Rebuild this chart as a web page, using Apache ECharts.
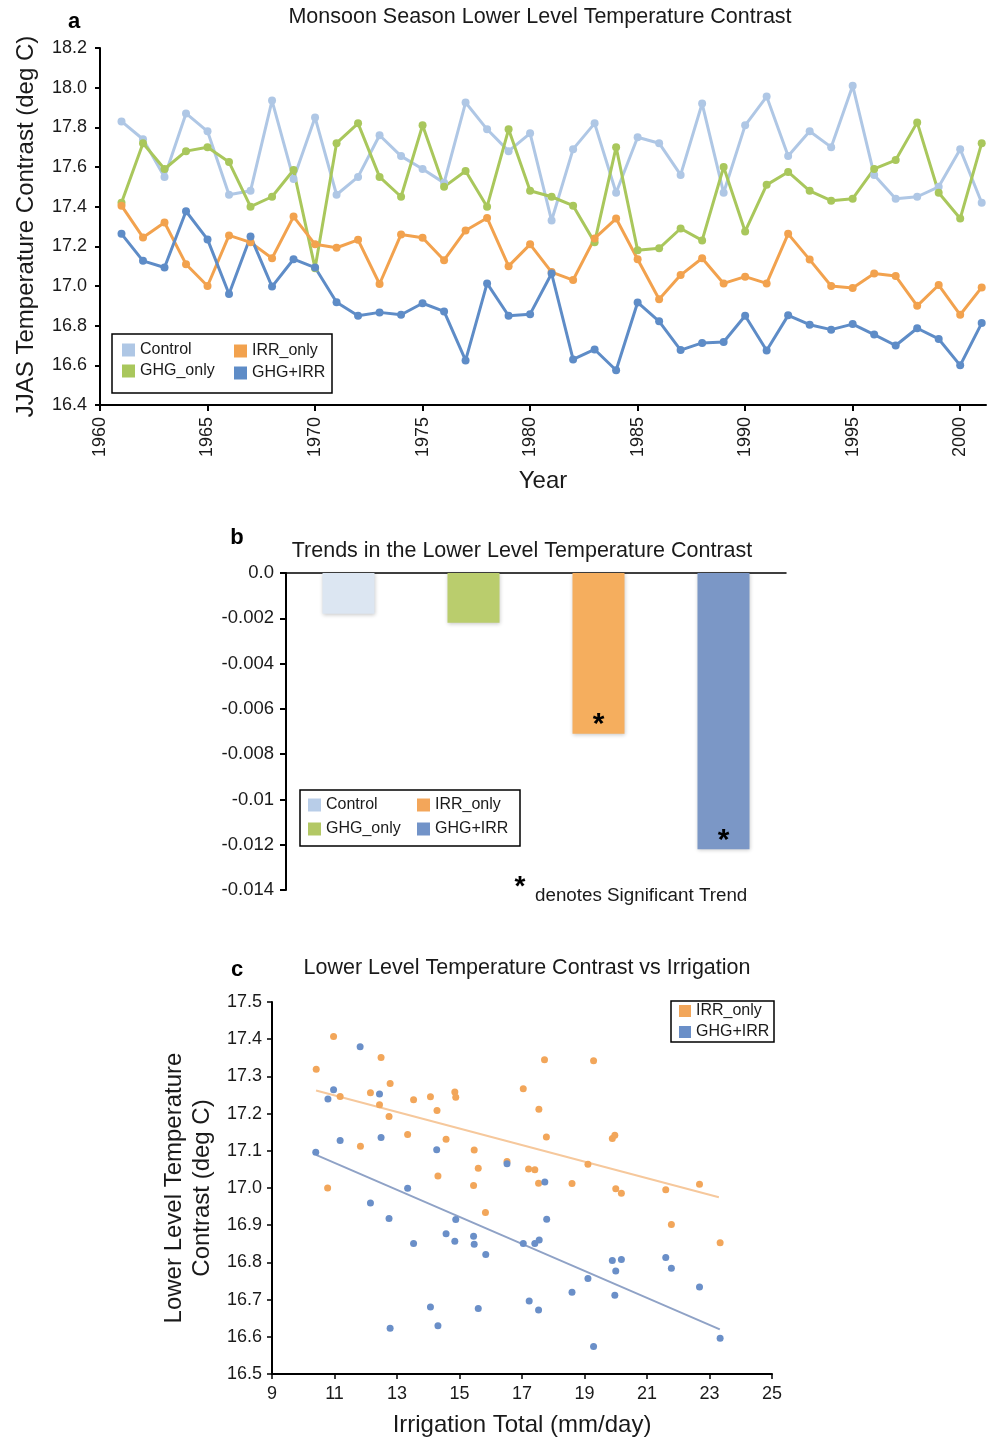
<!DOCTYPE html>
<html>
<head>
<meta charset="utf-8">
<script src="https://cdn.jsdelivr.net/npm/echarts@6/dist/echarts.min.js"></script>
<style>
html,body{margin:0;padding:0;background:#fff;}
#chart{width:989px;height:1440px;}
</style>
</head>
<body>
<div id="chart"></div>
<script>
// ---------- Panel a data ----------
const years = [1961,1962,1963,1964,1965,1966,1967,1968,1969,1970,1971,1972,1973,1974,1975,1976,1977,1978,1979,1980,1981,1982,1983,1984,1985,1986,1987,1988,1989,1990,1991,1992,1993,1994,1995,1996,1997,1998,1999,2000,2001];
const control = [17.83,17.74,17.55,17.87,17.78,17.46,17.48,17.935,17.54,17.85,17.46,17.55,17.76,17.655,17.59,17.52,17.925,17.79,17.68,17.77,17.33,17.69,17.82,17.47,17.75,17.72,17.56,17.92,17.47,17.81,17.955,17.655,17.78,17.70,18.01,17.56,17.44,17.45,17.50,17.69,17.42];
const ghgOnly = [17.42,17.72,17.59,17.68,17.70,17.625,17.40,17.45,17.585,17.09,17.72,17.82,17.55,17.45,17.81,17.50,17.58,17.40,17.79,17.48,17.45,17.405,17.22,17.70,17.18,17.19,17.29,17.23,17.60,17.275,17.51,17.575,17.48,17.43,17.44,17.59,17.635,17.825,17.47,17.34,17.72];
const irrOnly = [17.405,17.245,17.32,17.11,17.00,17.255,17.22,17.14,17.35,17.21,17.193,17.233,17.01,17.26,17.243,17.13,17.28,17.343,17.10,17.21,17.07,17.03,17.24,17.34,17.135,16.933,17.055,17.14,17.013,17.047,17.013,17.263,17.133,17.00,16.99,17.063,17.05,16.90,17.005,16.855,16.993];
const ghgIrr = [17.263,17.127,17.093,17.377,17.235,16.96,17.25,16.997,17.135,17.093,16.918,16.85,16.867,16.855,16.913,16.872,16.625,17.013,16.85,16.858,17.063,16.63,16.68,16.575,16.917,16.822,16.677,16.713,16.718,16.85,16.675,16.852,16.805,16.78,16.808,16.755,16.70,16.787,16.733,16.60,16.813];
const yearTicks = [1960,1965,1970,1975,1980,1985,1990,1995,2000];

// ---------- Panel b data ----------
const trendCategories = ['Control','GHG_only','IRR_only','GHG+IRR'];
const trendValues = [-0.0018,-0.0022,-0.0071,-0.0122];
const trendSignificant = [false,false,true,true];
const trendTickLabels = ['0.0','-0.002','-0.004','-0.006','-0.008','-0.01','-0.012','-0.014'];

// ---------- Panel c data ----------
const cIrrOnlyX = [10.415,10.97,12.49,12.78,11.18,12.15,12.44,12.745,13.53,14.07,14.28,14.85,14.88,13.34,14.57,11.83,15.47,16.52,15.60,14.31,10.78,15.45,15.83,17.72,19.29,17.04,17.54,17.78,19.89,19.97,17.21,17.41,17.53,18.60,19.11,20.0,20.18,21.60,22.68,21.78,23.34];
const cIrrOnlyY = [17.319,17.407,17.351,17.281,17.246,17.256,17.224,17.192,17.237,17.245,17.208,17.258,17.244,17.144,17.131,17.112,17.102,17.071,17.053,17.032,17.0,17.007,16.934,17.345,17.342,17.267,17.212,17.137,17.133,17.142,17.051,17.049,17.013,17.012,17.064,16.998,16.986,16.995,17.010,16.902,16.853];
const cGhgIrrX = [11.82,10.97,10.79,12.44,11.18,12.49,10.40,14.27,13.34,12.15,12.745,14.88,13.53,14.57,14.85,15.45,15.47,15.84,14.07,14.31,15.60,12.78,16.52,17.73,17.79,17.04,17.41,17.55,19.89,20.18,20.0,21.60,21.78,19.11,18.60,19.97,22.68,17.23,17.53,23.34,19.29];
const cGhgIrrY = [17.38,17.264,17.239,17.253,17.128,17.136,17.096,17.103,16.999,16.96,16.918,16.915,16.851,16.877,16.857,16.870,16.849,16.821,16.680,16.630,16.676,16.623,17.065,17.016,16.916,16.851,16.851,16.860,16.805,16.808,16.777,16.813,16.784,16.757,16.720,16.712,16.734,16.696,16.672,16.596,16.574];
const trendIrrX = [10.41,23.30];
const trendIrrY = [17.262,16.975];
const trendGhgX = [10.41,23.33];
const trendGhgY = [17.089,16.620];
const irrTicks = [9,11,13,15,17,19,21,23,25];

// ---------- styling ----------
const FONT = 'Liberation Sans, Arial, Helvetica, sans-serif';
const TXT = '#1a1a1a';
const colA = {Control:'#AFC7E5', GHG_only:'#A9C75C', IRR_only:'#F2A24E', 'GHG+IRR':'#5E8CC7'};
const colB = {Control:'#DCE6F2', GHG_only:'#BACD6D', IRR_only:'#F5AE5E', 'GHG+IRR':'#7B97C6'};
const colBLegend = {Control:'#B8CDE8', GHG_only:'#B3C865', IRR_only:'#F3A65A', 'GHG+IRR':'#7293C8'};
const colC = {IRR_only:'#F2A65A', 'GHG+IRR':'#6A8FC8'};

const chart = echarts.init(document.getElementById('chart'), null, {renderer:'canvas'});

function pairs(xs, ys){ return xs.map((x,i)=>[x, ys[i]]); }

const axisLineBlack = {show:true, lineStyle:{color:'#000', width:2}};

const lineSeries = [['Control',control],['GHG_only',ghgOnly],['IRR_only',irrOnly],['GHG+IRR',ghgIrr]].map(([name,vals])=>({
  name, type:'line', xAxisIndex:0, yAxisIndex:0,
  data: pairs(years, vals),
  symbol:'circle', symbolSize:8, showSymbol:true,
  lineStyle:{width:3, color:colA[name]},
  itemStyle:{color:colA[name]},
  z: 3
}));

const barSeries = trendCategories.map((name,i)=>({
  name, type:'bar', xAxisIndex:1, yAxisIndex:1,
  data: trendCategories.map((c,j)=> j===i ? trendValues[i] : '-'),
  barWidth:52, barGap:'-100%',
  itemStyle:{color:colB[name], shadowBlur:4, shadowColor:'rgba(0,0,0,0.22)', shadowOffsetY:1},
  label:{show:trendSignificant[i], position:'insideBottom', distance:-6, formatter:'*',
         fontSize:30, fontWeight:'bold', color:'#000', fontFamily:FONT}
}));

const scatterSeries = [
  {name:'GHG+IRR', type:'line', xAxisIndex:2, yAxisIndex:2, data:pairs(trendGhgX,trendGhgY),
   symbol:'none', lineStyle:{color:'#8FA2C6', width:2}, silent:true, z:2},
  {name:'IRR_only', type:'line', xAxisIndex:2, yAxisIndex:2, data:pairs(trendIrrX,trendIrrY),
   symbol:'none', lineStyle:{color:'#F6C89C', width:2}, silent:true, z:2},
  {name:'IRR_only', type:'scatter', xAxisIndex:2, yAxisIndex:2, data:pairs(cIrrOnlyX,cIrrOnlyY),
   symbolSize:7, itemStyle:{color:colC.IRR_only, opacity:1}, z:3},
  {name:'GHG+IRR', type:'scatter', xAxisIndex:2, yAxisIndex:2, data:pairs(cGhgIrrX,cGhgIrrY),
   symbolSize:7, itemStyle:{color:colC['GHG+IRR'], opacity:1}, z:4}
];

const legTxt = {fontSize:16, color:TXT, fontFamily:FONT};
function legItem(name, color){ return {name, icon:'rect', itemStyle:{color}}; }
const nameTxt = {fontSize:24, color:TXT, fontFamily:FONT};

const option = {
  backgroundColor:'#fff',
  animation:false,
  textStyle:{fontFamily:FONT},
  grid:[
    {left:100, top:48, width:886, height:357},
    {left:286, top:573, width:500, height:317},
    {left:272, top:1002, width:500, height:372}
  ],
  xAxis:[
    {gridIndex:0, type:'value', min:1960, max:2001.2, interval:5,
     name:'Year', nameLocation:'middle', nameGap:64,
     nameTextStyle:nameTxt,
     axisLine:axisLineBlack,
     axisTick:{show:true, length:6, lineStyle:{color:'#000', width:2}, customValues:yearTicks},
     axisLabel:{rotate:90, fontSize:18, color:TXT, margin:12, customValues:yearTicks,
                formatter:v=>String(v)},
     splitLine:{show:false}},
    {gridIndex:1, type:'category', data:trendCategories, position:'top',
     axisLine:{show:true, onZero:true, lineStyle:{color:'#000', width:1.5}},
     axisTick:{show:false}, axisLabel:{show:false}, splitLine:{show:false}},
    {gridIndex:2, type:'value', min:9, max:25,
     name:'Irrigation Total (mm/day)', nameLocation:'middle', nameGap:39,
     nameTextStyle:nameTxt,
     axisLine:axisLineBlack,
     axisTick:{show:true, length:5, lineStyle:{color:'#000', width:1.5}, customValues:irrTicks},
     axisLabel:{fontSize:18, color:TXT, margin:11, customValues:irrTicks, formatter:v=>String(v)},
     splitLine:{show:false}}
  ],
  yAxis:[
    {gridIndex:0, type:'value', min:16.4, max:18.2, interval:0.2,
     name:'JJAS Temperature Contrast (deg C)', nameLocation:'middle', nameGap:62,
     nameTextStyle:nameTxt,
     axisLine:axisLineBlack,
     axisTick:{show:true, length:5, lineStyle:{color:'#000', width:2}},
     axisLabel:{fontSize:18, color:TXT, margin:13, formatter:v=>v.toFixed(1)},
     splitLine:{show:false}},
    {gridIndex:1, type:'value', min:-0.014, max:0, interval:0.002,
     axisLine:axisLineBlack,
     axisTick:{show:true, length:6, lineStyle:{color:'#000', width:2}},
     axisLabel:{fontSize:18.5, color:TXT, margin:12,
                formatter:v=>trendTickLabels[Math.round(-v/0.002)]},
     splitLine:{show:false}},
    {gridIndex:2, type:'value', min:16.5, max:17.5, interval:0.1,
     name:'Lower Level Temperature\nContrast (deg C)', nameLocation:'middle', nameGap:56,
     nameTextStyle:Object.assign({lineHeight:28, align:'center'}, nameTxt),
     axisLine:axisLineBlack,
     axisTick:{show:true, length:5, lineStyle:{color:'#000', width:1.5}},
     axisLabel:{fontSize:18, color:TXT, margin:10, formatter:v=>v.toFixed(1)},
     splitLine:{show:false}}
  ],
  legend:[
    {orient:'vertical', left:122, top:342, padding:0, itemWidth:13, itemHeight:13, itemGap:5,
     textStyle:legTxt, selectedMode:false,
     data:[legItem('Control',colA.Control), legItem('GHG_only',colA.GHG_only)]},
    {orient:'vertical', left:234, top:343, padding:0, itemWidth:13, itemHeight:13, itemGap:6,
     textStyle:legTxt, selectedMode:false,
     data:[legItem('IRR_only',colA.IRR_only), legItem('GHG+IRR',colA['GHG+IRR'])]},
    {orient:'vertical', left:308, top:797, padding:0, itemWidth:13, itemHeight:13, itemGap:8,
     textStyle:legTxt, selectedMode:false,
     data:[legItem('Control',colBLegend.Control), legItem('GHG_only',colBLegend.GHG_only)]},
    {orient:'vertical', left:417, top:797, padding:0, itemWidth:13, itemHeight:13, itemGap:8,
     textStyle:legTxt, selectedMode:false,
     data:[legItem('IRR_only',colBLegend.IRR_only), legItem('GHG+IRR',colBLegend['GHG+IRR'])]},
    {orient:'vertical', left:679, top:1003, padding:0, itemWidth:12, itemHeight:12, itemGap:5,
     textStyle:legTxt, selectedMode:false,
     data:[legItem('IRR_only',colC.IRR_only), legItem('GHG+IRR',colC['GHG+IRR'])]}
  ],
  graphic:[
    // legend frames
    {type:'rect', shape:{x:112, y:334, width:220, height:59}, style:{fill:null, stroke:'#000', lineWidth:1.5}, z:10},
    {type:'rect', shape:{x:300, y:790, width:220, height:56}, style:{fill:null, stroke:'#000', lineWidth:1.5}, z:10},
    {type:'rect', shape:{x:671, y:1001, width:103, height:41}, style:{fill:null, stroke:'#000', lineWidth:1.5}, z:10},
    // panel letters and titles
    {type:'text', x:74, y:22, style:{text:'a', font:'bold 22px '+FONT, fill:'#000', textAlign:'center', textVerticalAlign:'middle'}},
    {type:'text', x:540, y:17, style:{text:'Monsoon Season Lower Level Temperature Contrast', font:'21.5px '+FONT, fill:TXT, textAlign:'center', textVerticalAlign:'middle'}},
    {type:'text', x:237, y:538, style:{text:'b', font:'bold 22px '+FONT, fill:'#000', textAlign:'center', textVerticalAlign:'middle'}},
    {type:'text', x:522, y:551, style:{text:'Trends in the Lower Level Temperature Contrast', font:'21.5px '+FONT, fill:TXT, textAlign:'center', textVerticalAlign:'middle'}},
    {type:'text', x:520, y:887, style:{text:'*', font:'bold 28px '+FONT, fill:'#000', textAlign:'center', textVerticalAlign:'middle'}},
    {type:'text', x:535, y:896, style:{text:'denotes Significant Trend', font:'18.8px '+FONT, fill:TXT, textAlign:'left', textVerticalAlign:'middle'}},
    {type:'text', x:237, y:970, style:{text:'c', font:'bold 22px '+FONT, fill:'#000', textAlign:'center', textVerticalAlign:'middle'}},
    {type:'text', x:527, y:968, style:{text:'Lower Level Temperature Contrast vs Irrigation', font:'21.5px '+FONT, fill:TXT, textAlign:'center', textVerticalAlign:'middle'}}
  ],
  series:[...lineSeries, ...barSeries, ...scatterSeries]
};
chart.setOption(option);
</script>
</body>
</html>
